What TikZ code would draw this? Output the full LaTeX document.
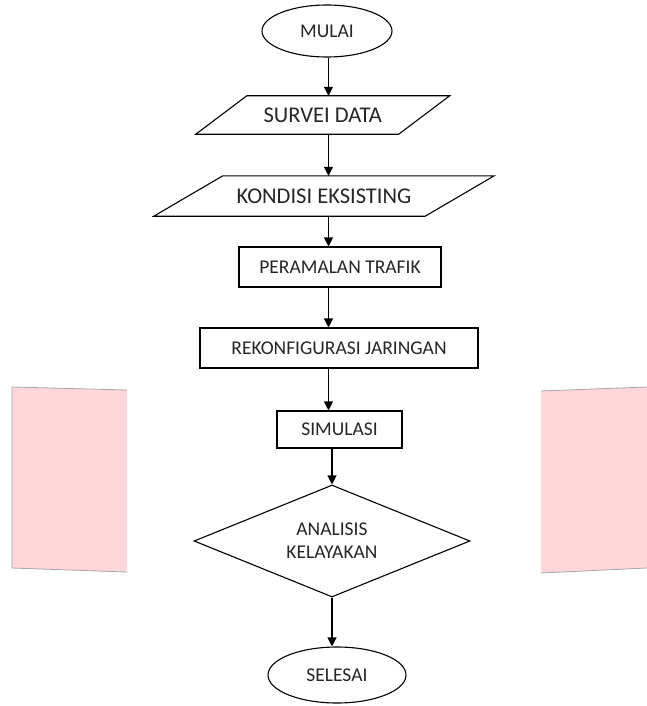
\documentclass[tikz,border=0pt]{standalone}
\usepackage{fontspec}
\setmainfont{Carlito}
\usetikzlibrary{shapes.geometric,arrows.meta}
\definecolor{notepink}{RGB}{255,214,218}
\tikzset{
  terminal/.style={ellipse,draw,line width=1.1pt,inner sep=0pt},
  process/.style={rectangle,draw,line width=1.1pt,inner sep=0pt,minimum height=40pt},
  dataio/.style={rectangle,inner sep=0pt,font=\fontsize{22.5}{26}\selectfont},
  slanted/.style={line width=1.1pt,line join=miter},
  decision/.style={diamond,draw,line width=1.1pt,inner sep=0pt,aspect=2.5,align=center},
  flow/.style={->,line width=1.1pt},
  sheetedge/.style={gray!70,line width=0.8pt}
}

\begin{document}
\begin{tikzpicture}[x=1pt,y=-1pt,>={Triangle[width=9pt,length=9pt]},
                    font=\fontsize{19.5}{23}\selectfont,text=black!85]
            \useasboundingbox (0,0) rectangle (647,706);
            % pink sheets at the sides
            \fill[notepink] (12,387) -- (127,390) -- (127,572) -- (12,568) -- cycle;
            \draw[sheetedge] (127,390) -- (12,387) -- (12,568) -- (127,572);
            \fill[notepink] (541,391) -- (647,387) -- (647,568) -- (541,573) -- cycle;
            \draw[sheetedge] (541,391) -- (647,387);
            \draw[sheetedge] (541,573) -- (647,568);
            % flow steps
            \node[terminal,minimum width=130pt,minimum height=52pt] (mulai) at (327,31) {MULAI};
            \node[dataio,minimum width=202.5pt,minimum height=38pt] (survei) at (322.75,115) {SURVEI DATA};
            \draw[slanted] ([xshift=-25.5pt]survei.south west) -- ([xshift=25.5pt]survei.north west)
                -- ([xshift=25.5pt]survei.north east) -- ([xshift=-25.5pt]survei.south east) -- cycle;
            \node[dataio,minimum width=271pt,minimum height=40pt] (kondisi) at (324,196) {KONDISI EKSISTING};
            \draw[slanted] ([xshift=-34.5pt]kondisi.south west) -- ([xshift=34.5pt]kondisi.north west)
                -- ([xshift=34.5pt]kondisi.north east) -- ([xshift=-34.5pt]kondisi.south east) -- cycle;
            \node[process,minimum width=202pt] (peramalan) at (340,267) {PERAMALAN TRAFIK};
            \node[process,minimum width=278pt] (rekonfigurasi) at (339,348) {REKONFIGURASI JARINGAN};
            \node[process,minimum width=125pt,minimum height=37pt] (simulasi) at (339.5,429.5) {SIMULASI};
            \node[decision,minimum width=276pt,minimum height=112pt] (analisis) at (332,541) {ANALISIS\\KELAYAKAN};
            \node[terminal,minimum width=138pt,minimum height=56pt] (selesai) at (337,675) {SELESAI};
            % arrows
            \coordinate (spine) at (328.5,0);
            \foreach \a/\b in {mulai/survei,survei/kondisi,kondisi/peramalan,
                               peramalan/rekonfigurasi,rekonfigurasi/simulasi}
                \draw[flow] (\a.south -| spine) -- (\b.north -| spine);
            \draw[flow] (simulasi.south -| analisis.north) -- (analisis.north);
            \draw[flow] (analisis.south) -- (selesai.north -| analisis.south);
        \end{tikzpicture}
\end{document}
